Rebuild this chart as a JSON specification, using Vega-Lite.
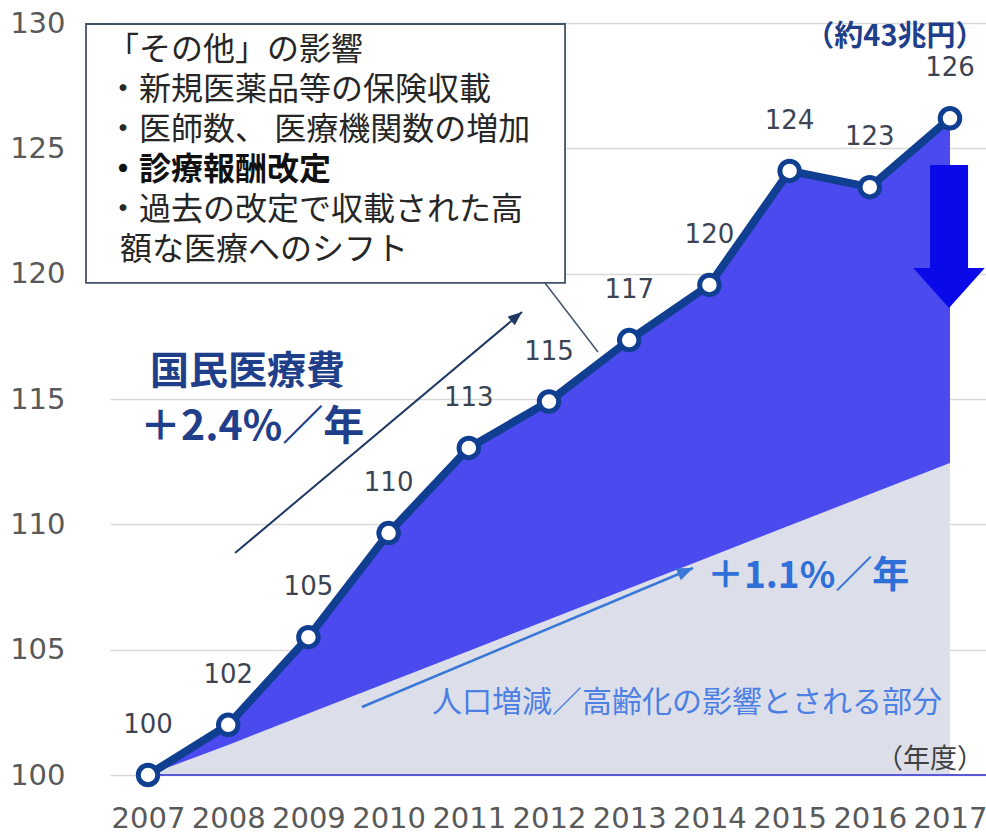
{
  "$schema": "https://vega.github.io/schema/vega-lite/v6.json",
  "width": 876,
  "height": 752,
  "autosize": {"type": "none"},
  "padding": {"left": 110, "top": 23, "right": 0, "bottom": 58},
  "background": "white",
  "config": {"view": {"stroke": null}},
  "datasets": {
    "series": [
      {"year": 2007, "value": 100, "base": 100, "label": "100"},
      {"year": 2008, "value": 102.0, "base": 101.2, "label": "102"},
      {"year": 2009, "value": 105.5, "base": 102.45, "label": "105"},
      {"year": 2010, "value": 109.65, "base": 103.7, "label": "110"},
      {"year": 2011, "value": 113.05, "base": 104.95, "label": "113"},
      {"year": 2012, "value": 114.9, "base": 106.2, "label": "115"},
      {"year": 2013, "value": 117.35, "base": 107.45, "label": "117"},
      {"year": 2014, "value": 119.55, "base": 108.7, "label": "120"},
      {"year": 2015, "value": 124.1, "base": 109.95, "label": "124"},
      {"year": 2016, "value": 123.45, "base": 111.2, "label": "123"},
      {"year": 2017, "value": 126.2, "base": 112.45, "label": "126"}
    ],
    "baseline": [{"x": 2007, "x2": 2017.449, "y": 100}],
    "box": [{"x": 2006.227, "x2": 2012.2, "y": 129.96, "y2": 119.63}],
    "boxText": [
      {"x": 2006.489, "y": 128.92, "text": "「その他」の影響"},
      {"x": 2006.489, "y": 127.33, "text": "・新規医薬品等の保険収載"},
      {"x": 2006.489, "y": 125.73, "text": "・医師数、 医療機関数の増加"},
      {"x": 2006.489, "y": 122.54, "text": "・過去の改定で収載された高"},
      {"x": 2006.651, "y": 120.94, "text": "額な医療へのシフト"}
    ],
    "boxBold": [{"x": 2006.489, "y": 124.14, "text": "・診療報酬改定"}],
    "callout": [{"x": 2011.95, "y": 119.627, "x2": 2012.611, "y2": 116.875}],
    "navyArrow": [{"x": 2008.085, "y": 108.856, "x2": 2011.663, "y2": 118.47, "angle": 50}],
    "blueArrow": [{"x": 2009.668, "y": 102.713, "x2": 2013.796, "y2": 108.258, "angle": 67}],
    "bigArrow": [{"x": 2016.988, "y": 121.483}],
    "titleNavy": [{"x": 2007.025, "y": 116.077, "text": "国民医療費"}],
    "rateNavy": [{"x": 2006.9, "y": 113.843, "text": "＋2.4%／年"}],
    "rateBlue": [{"x": 2013.97, "y": 107.899, "text": "＋1.1%／年"}],
    "popText": [{"x": 2010.541, "y": 102.872, "text": "人口増減／高齢化の影響とされる部分"}],
    "unitText": [{"x": 2017.424, "y": 100.598, "text": "（年度）"}],
    "totalText": [{"x": 2016.314, "y": 129.45, "text": "（約43兆円）"}]
  },
  "layer": [
    {
      "data": {"name": "series"},
      "mark": {"type": "area", "color": "#dcdfe9", "opacity": 1},
      "encoding": {
        "x": {"field": "year", "type": "quantitative", "title": null,
          "scale": {"domain": [2006.526, 2017.449], "nice": false, "zero": false},
          "axis": {"values": [2007, 2008, 2009, 2010, 2011, 2012, 2013, 2014, 2015, 2016, 2017],
            "format": "d", "title": null, "domain": false, "ticks": false, "grid": false,
            "labelFont": "DejaVu Sans", "labelFontSize": 29, "labelColor": "#595959",
            "labelPadding": 29, "labelOverlap": false, "labelFlush": false, "labelBound": false}},
        "y": {"field": "base", "type": "quantitative", "title": null,
          "scale": {"domain": [100, 130], "nice": false, "zero": false},
          "axis": {"values": [100, 105, 110, 115, 120, 125, 130], "title": null, "domain": false,
            "ticks": false, "grid": true, "gridColor": "#d9d9d9", "gridWidth": 1.5,
            "labelFont": "DejaVu Sans", "labelFontSize": 29, "labelColor": "#595959",
            "labelPadding": 45, "labelOverlap": false, "labelFlush": false, "labelBound": false}},
        "y2": {"datum": 100}
      }
    },
    {
      "data": {"name": "series"},
      "mark": {"type": "area", "color": "#4a4aee", "opacity": 1},
      "encoding": {
        "x": {"field": "year", "type": "quantitative", "title": null, "scale": {"domain": [2006.526, 2017.449], "nice": false, "zero": false}},
        "y": {"field": "value", "type": "quantitative", "title": null, "scale": {"domain": [100, 130], "nice": false, "zero": false}},
        "y2": {"field": "base"}
      }
    },
    {
      "data": {"name": "baseline"},
      "mark": {"type": "rule", "color": "#5a5ad8", "strokeWidth": 2},
      "encoding": {
        "x": {"field": "x", "type": "quantitative", "title": null, "scale": {"domain": [2006.526, 2017.449], "nice": false, "zero": false}},
        "x2": {"field": "x2"},
        "y": {"field": "y", "type": "quantitative", "title": null, "scale": {"domain": [100, 130], "nice": false, "zero": false}}
      }
    },
    {
      "data": {"name": "series"},
      "mark": {"type": "line", "color": "#103f91", "strokeWidth": 8, "strokeJoin": "round"},
      "encoding": {
        "x": {"field": "year", "type": "quantitative", "title": null, "scale": {"domain": [2006.526, 2017.449], "nice": false, "zero": false}},
        "y": {"field": "value", "type": "quantitative", "title": null, "scale": {"domain": [100, 130], "nice": false, "zero": false}}
      }
    },
    {
      "data": {"name": "series"},
      "mark": {"type": "point", "shape": "circle", "filled": true, "fill": "white", "stroke": "#103f91", "strokeWidth": 5, "size": 380, "opacity": 1},
      "encoding": {
        "x": {"field": "year", "type": "quantitative", "title": null, "scale": {"domain": [2006.526, 2017.449], "nice": false, "zero": false}},
        "y": {"field": "value", "type": "quantitative", "title": null, "scale": {"domain": [100, 130], "nice": false, "zero": false}}
      }
    },
    {
      "data": {"name": "series"},
      "mark": {"type": "text", "font": "DejaVu Sans", "fontSize": 26, "color": "#3c4454", "dy": -50, "align": "center", "baseline": "middle"},
      "encoding": {
        "x": {"field": "year", "type": "quantitative", "title": null, "scale": {"domain": [2006.526, 2017.449], "nice": false, "zero": false}},
        "y": {"field": "value", "type": "quantitative", "title": null, "scale": {"domain": [100, 130], "nice": false, "zero": false}},
        "text": {"field": "label"}
      }
    },
    {
      "data": {"name": "callout"},
      "mark": {"type": "rule", "color": "#44546a", "strokeWidth": 1.5},
      "encoding": {
        "x": {"field": "x", "type": "quantitative", "title": null, "scale": {"domain": [2006.526, 2017.449], "nice": false, "zero": false}},
        "y": {"field": "y", "type": "quantitative", "title": null, "scale": {"domain": [100, 130], "nice": false, "zero": false}},
        "x2": {"field": "x2"},
        "y2": {"field": "y2"}
      }
    },
    {
      "data": {"name": "box"},
      "mark": {"type": "rect", "fill": "white", "stroke": "#44546a", "strokeWidth": 1.8},
      "encoding": {
        "x": {"field": "x", "type": "quantitative", "title": null, "scale": {"domain": [2006.526, 2017.449], "nice": false, "zero": false}},
        "y": {"field": "y", "type": "quantitative", "title": null, "scale": {"domain": [100, 130], "nice": false, "zero": false}},
        "x2": {"field": "x2"},
        "y2": {"field": "y2"}
      }
    },
    {
      "data": {"name": "boxText"},
      "mark": {"type": "text", "font": "Noto Sans CJK JP", "fontSize": 32, "color": "#262626", "align": "left", "baseline": "middle"},
      "encoding": {
        "x": {"field": "x", "type": "quantitative", "title": null, "scale": {"domain": [2006.526, 2017.449], "nice": false, "zero": false}},
        "y": {"field": "y", "type": "quantitative", "title": null, "scale": {"domain": [100, 130], "nice": false, "zero": false}},
        "text": {"field": "text"}
      }
    },
    {
      "data": {"name": "boxBold"},
      "mark": {"type": "text", "font": "Noto Sans CJK JP", "fontSize": 32, "fontWeight": "bold", "color": "#111111", "align": "left", "baseline": "middle"},
      "encoding": {
        "x": {"field": "x", "type": "quantitative", "title": null, "scale": {"domain": [2006.526, 2017.449], "nice": false, "zero": false}},
        "y": {"field": "y", "type": "quantitative", "title": null, "scale": {"domain": [100, 130], "nice": false, "zero": false}},
        "text": {"field": "text"}
      }
    },
    {
      "data": {"name": "navyArrow"},
      "mark": {"type": "rule", "color": "#1f3864", "strokeWidth": 2},
      "encoding": {
        "x": {"field": "x", "type": "quantitative", "title": null, "scale": {"domain": [2006.526, 2017.449], "nice": false, "zero": false}},
        "y": {"field": "y", "type": "quantitative", "title": null, "scale": {"domain": [100, 130], "nice": false, "zero": false}},
        "x2": {"field": "x2"},
        "y2": {"field": "y2"}
      }
    },
    {
      "data": {"name": "navyArrow"},
      "mark": {"type": "point", "shape": "M0,0 L0.4,1 L-0.4,1 Z", "filled": true, "color": "#1f3864", "size": 784, "opacity": 1},
      "encoding": {
        "x": {"field": "x2", "type": "quantitative", "title": null, "scale": {"domain": [2006.526, 2017.449], "nice": false, "zero": false}},
        "y": {"field": "y2", "type": "quantitative", "title": null, "scale": {"domain": [100, 130], "nice": false, "zero": false}},
        "angle": {"field": "angle", "type": "quantitative", "scale": null}
      }
    },
    {
      "data": {"name": "blueArrow"},
      "mark": {"type": "rule", "color": "#3a78d8", "strokeWidth": 2.5},
      "encoding": {
        "x": {"field": "x", "type": "quantitative", "title": null, "scale": {"domain": [2006.526, 2017.449], "nice": false, "zero": false}},
        "y": {"field": "y", "type": "quantitative", "title": null, "scale": {"domain": [100, 130], "nice": false, "zero": false}},
        "x2": {"field": "x2"},
        "y2": {"field": "y2"}
      }
    },
    {
      "data": {"name": "blueArrow"},
      "mark": {"type": "point", "shape": "M0,0 L0.4,1 L-0.4,1 Z", "filled": true, "color": "#3a78d8", "size": 1024, "opacity": 1},
      "encoding": {
        "x": {"field": "x2", "type": "quantitative", "title": null, "scale": {"domain": [2006.526, 2017.449], "nice": false, "zero": false}},
        "y": {"field": "y2", "type": "quantitative", "title": null, "scale": {"domain": [100, 130], "nice": false, "zero": false}},
        "angle": {"field": "angle", "type": "quantitative", "scale": null}
      }
    },
    {
      "data": {"name": "bigArrow"},
      "mark": {"type": "point", "shape": "M-0.266,-1 L0.266,-1 L0.266,0.44 L0.5,0.44 L0,1 L-0.5,0.44 L-0.266,0.44 Z", "filled": true, "color": "#0a0ae8", "size": 20449, "opacity": 1},
      "encoding": {
        "x": {"field": "x", "type": "quantitative", "title": null, "scale": {"domain": [2006.526, 2017.449], "nice": false, "zero": false}},
        "y": {"field": "y", "type": "quantitative", "title": null, "scale": {"domain": [100, 130], "nice": false, "zero": false}}
      }
    },
    {
      "data": {"name": "titleNavy"},
      "mark": {"type": "text", "font": "Noto Sans CJK JP", "fontSize": 39, "fontWeight": "bold", "color": "#1f3f8a", "align": "left", "baseline": "middle"},
      "encoding": {
        "x": {"field": "x", "type": "quantitative", "title": null, "scale": {"domain": [2006.526, 2017.449], "nice": false, "zero": false}},
        "y": {"field": "y", "type": "quantitative", "title": null, "scale": {"domain": [100, 130], "nice": false, "zero": false}},
        "text": {"field": "text"}
      }
    },
    {
      "data": {"name": "rateNavy"},
      "mark": {"type": "text", "font": "Noto Sans CJK JP", "fontSize": 41, "fontWeight": "bold", "color": "#1f3f8a", "align": "left", "baseline": "middle"},
      "encoding": {
        "x": {"field": "x", "type": "quantitative", "title": null, "scale": {"domain": [2006.526, 2017.449], "nice": false, "zero": false}},
        "y": {"field": "y", "type": "quantitative", "title": null, "scale": {"domain": [100, 130], "nice": false, "zero": false}},
        "text": {"field": "text"}
      }
    },
    {
      "data": {"name": "rateBlue"},
      "mark": {"type": "text", "font": "Noto Sans CJK JP", "fontSize": 37, "fontWeight": "bold", "color": "#2e6fd8", "align": "left", "baseline": "middle"},
      "encoding": {
        "x": {"field": "x", "type": "quantitative", "title": null, "scale": {"domain": [2006.526, 2017.449], "nice": false, "zero": false}},
        "y": {"field": "y", "type": "quantitative", "title": null, "scale": {"domain": [100, 130], "nice": false, "zero": false}},
        "text": {"field": "text"}
      }
    },
    {
      "data": {"name": "popText"},
      "mark": {"type": "text", "font": "Noto Sans CJK JP", "fontSize": 30, "color": "#4d80e4", "align": "left", "baseline": "middle"},
      "encoding": {
        "x": {"field": "x", "type": "quantitative", "title": null, "scale": {"domain": [2006.526, 2017.449], "nice": false, "zero": false}},
        "y": {"field": "y", "type": "quantitative", "title": null, "scale": {"domain": [100, 130], "nice": false, "zero": false}},
        "text": {"field": "text"}
      }
    },
    {
      "data": {"name": "unitText"},
      "mark": {"type": "text", "font": "Noto Sans CJK JP", "fontSize": 27, "color": "#404040", "align": "right", "baseline": "middle"},
      "encoding": {
        "x": {"field": "x", "type": "quantitative", "title": null, "scale": {"domain": [2006.526, 2017.449], "nice": false, "zero": false}},
        "y": {"field": "y", "type": "quantitative", "title": null, "scale": {"domain": [100, 130], "nice": false, "zero": false}},
        "text": {"field": "text"}
      }
    },
    {
      "data": {"name": "totalText"},
      "mark": {"type": "text", "font": "Noto Sans CJK JP", "fontSize": 29, "fontWeight": "bold", "color": "#1f3f8a", "align": "center", "baseline": "middle"},
      "encoding": {
        "x": {"field": "x", "type": "quantitative", "title": null, "scale": {"domain": [2006.526, 2017.449], "nice": false, "zero": false}},
        "y": {"field": "y", "type": "quantitative", "title": null, "scale": {"domain": [100, 130], "nice": false, "zero": false}},
        "text": {"field": "text"}
      }
    }
  ]
}
